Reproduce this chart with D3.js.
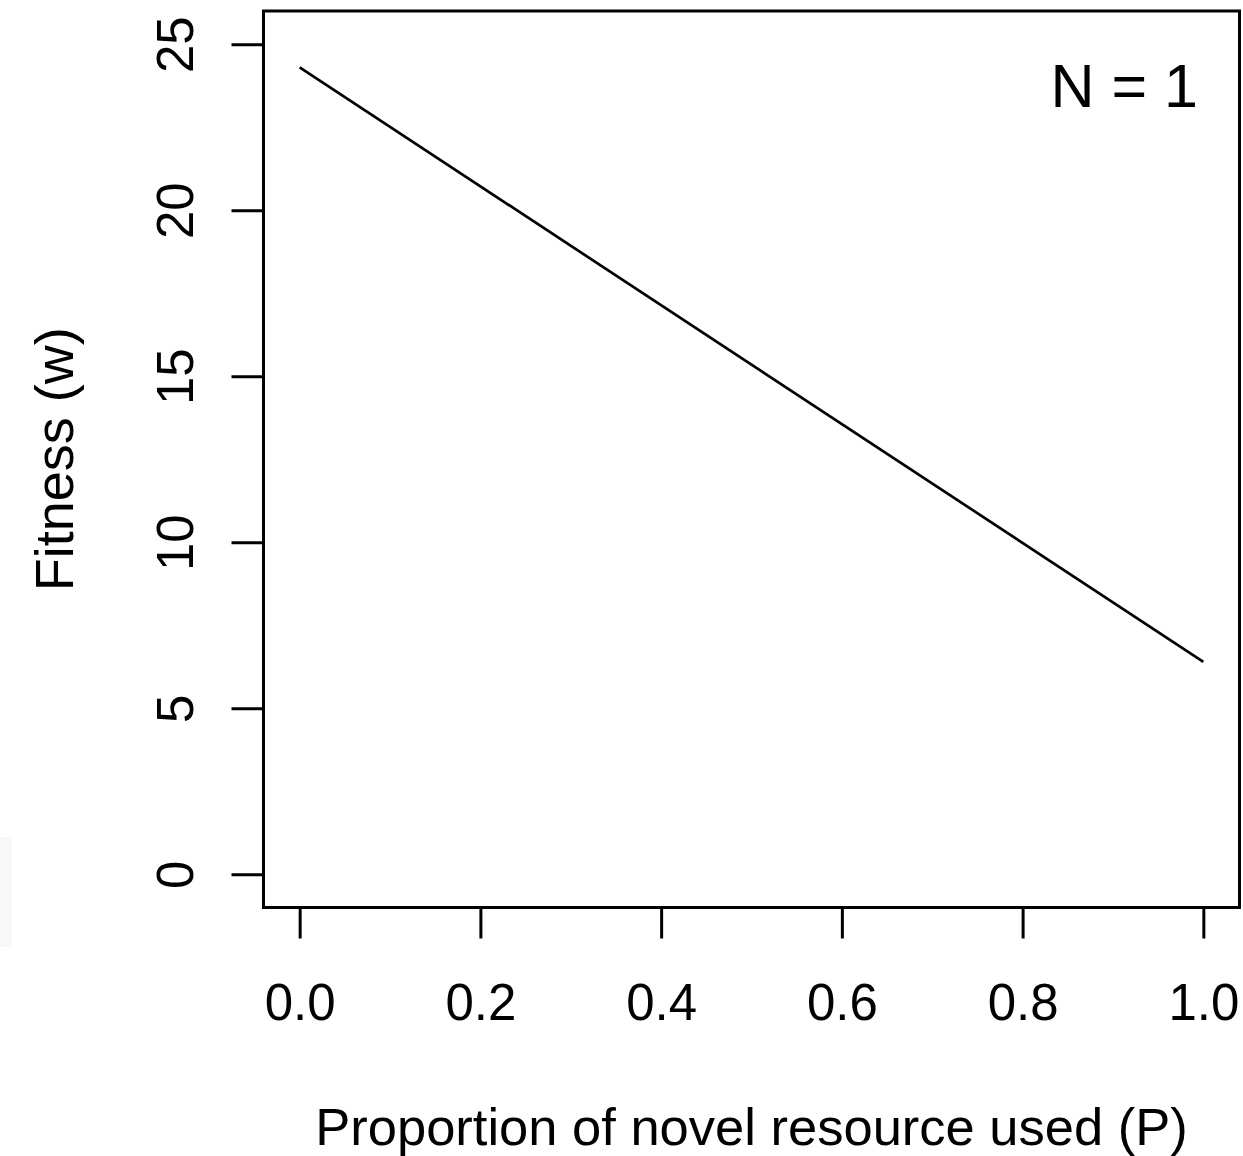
<!DOCTYPE html>
<html>
<head>
<meta charset="utf-8">
<script src="https://cdn.jsdelivr.net/npm/d3@7"></script>
<style>
  html, body { margin: 0; padding: 0; background: #fff; }
  svg { display: block; }
  text { font-family: "Liberation Sans", Arial, Helvetica, sans-serif; fill: #000; }
</style>
</head>
<body>
<svg id="chart" width="1243" height="1156"></svg>
<script>
// Fitness as a function of the proportion of the novel resource used
const pValues = [0.0, 1.0];
const fitnessValues = [24.3, 6.4];
const xTicks = [0.0, 0.2, 0.4, 0.6, 0.8, 1.0];
const yTicks = [0, 5, 10, 15, 20, 25];
const xTitle = "Proportion of novel resource used (P)";
const yTitle = "Fitness (w)";
const panelLabel = "N = 1";

const svg = d3.select("#chart");

// plot region (box) edges
const box = { left: 263.5, right: 1239.5, top: 11, bottom: 907.5 };

// R-style 4% padding around data ranges
const x = d3.scaleLinear().domain([-0.04, 1.04]).range([box.left, box.right]);
const y = d3.scaleLinear().domain([-1, 26]).range([box.bottom, box.top]);

const lw = 3;

// faint strip at the left edge
svg.append("rect")
  .attr("x", 0).attr("y", 837).attr("width", 12).attr("height", 110)
  .attr("fill", "#f8f8f8");

// x axis
const xAxis = svg.append("g")
  .attr("transform", `translate(0,${box.bottom})`)
  .call(d3.axisBottom(x).tickValues(xTicks).tickFormat(d3.format(".1f"))
    .tickSize(31).tickPadding(45));
xAxis.select(".domain").remove();
xAxis.selectAll(".tick line").attr("stroke", "#000").attr("stroke-width", lw);
xAxis.selectAll(".tick text").attr("font-size", 51).attr("dy", "0.71em")
  .attr("font-family", "Liberation Sans, Arial, sans-serif");

// y axis with rotated labels
const yAxis = svg.append("g")
  .attr("transform", `translate(${box.left},0)`)
  .call(d3.axisLeft(y).tickValues(yTicks).tickFormat(d3.format("d")).tickSize(32));
yAxis.select(".domain").remove();
yAxis.selectAll(".tick line").attr("stroke", "#000").attr("stroke-width", lw);
yAxis.selectAll(".tick text").remove();
yAxis.selectAll(".tick").append("text")
  .attr("transform", "translate(-71,0) rotate(-90)")
  .attr("text-anchor", "middle")
  .attr("font-size", 51)
  .text(d => d3.format("d")(d));

// frame
svg.append("rect")
  .attr("x", box.left).attr("y", box.top)
  .attr("width", box.right - box.left).attr("height", box.bottom - box.top)
  .attr("fill", "none").attr("stroke", "#000").attr("stroke-width", lw);

// fitness line
const line = d3.line().x(d => x(d[0])).y(d => y(d[1]));
svg.append("path")
  .datum(pValues.map((p, i) => [p, fitnessValues[i]]))
  .attr("d", line)
  .attr("fill", "none").attr("stroke", "#000").attr("stroke-width", 2.7);

// panel label
svg.append("text")
  .attr("x", 1198).attr("y", 107)
  .attr("text-anchor", "end")
  .attr("font-size", 61)
  .text(panelLabel);

// axis titles
svg.append("text")
  .attr("x", (x(0) + x(1)) / 2).attr("y", 1145)
  .attr("text-anchor", "middle")
  .attr("font-size", 52.5)
  .text(xTitle);

svg.append("text")
  .attr("transform", `translate(73,${(y(0) + y(25)) / 2}) rotate(-90)`)
  .attr("text-anchor", "middle")
  .attr("font-size", 54)
  .text(yTitle);
</script>
</body>
</html>
